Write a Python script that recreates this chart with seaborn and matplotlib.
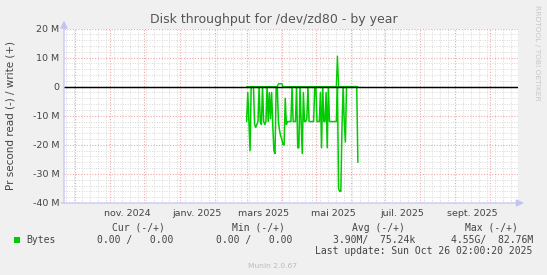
import numpy as np
import pandas as pd
import matplotlib
matplotlib.use("Agg")
import matplotlib.pyplot as plt
import matplotlib.dates as mdates
import matplotlib.transforms as mtransforms
from matplotlib.patches import Rectangle
import seaborn as sns

# ---------------- data (values in M bytes / second) ----------------
first_day = "2025-03-01"
read_mbps = [12, 2, 12, 22, 0, 0, 0, 13, 14, 13,
             12, 0, 12, 13, 0, 12, 13, 12, 0, 12,
             2, 11, 2, 13, 22, 23, 0, 0, 12, 15,
             17, 18, 20, 20, 4, 13, 12, 12, 12, 12,
             0, 12, 12, 12, 0, 21, 21, 0, 12, 23,
             2, 12, 12, 11, 0, 12, 12, 12, 12, 12,
             0, 0, 12, 12, 12, 2, 21, 0, 12, 12,
             2, 21, 0, 12, 12, 12, 12, 12, 12, 12,
             0, 35, 36, 36, 14, 0, 12, 19, 0, 0,
             0, 0, 0, 0, 0, 0, 0, 0, 26]
write_mbps = [0, 0, 0, 0, 0, 0, 0, 0, 0, 0,
              0, 0, 0, 0, 0, 0, 0, 0, 0, 0,
              0, 0, 0, 0, 0, 0, 0, 0, 1, 1,
              1, 1, 0, 0, 0, 0, 0, 0, 0, 0,
              0, 0, 0, 0, 0, 0, 0, 0, 0, 0,
              0, 0, 0, 0, 0, 0, 0, 0, 0, 0,
              0, 0, 0, 0, 0, 0, 0, 0, 0, 0,
              0, 0, 0, 0, 0, 0, 0, 0, 0, 0,
              10.5, 0, 0, 0, 0, 0, 0, 0, 0, 0,
              0, 0, 0, 0, 0, 0, 0, 0, 0]

x_start = "2024-09-21 02:00:20"
x_end = "2025-10-26 02:00:20"
y_ticks = [-40, -30, -20, -10, 0, 10, 20]
y_tick_labels = ["-40 M", "-30 M", "-20 M", "-10 M", "0", "10 M", "20 M"]
month_labels = ["nov. 2024", "janv. 2025", "mars 2025", "mai 2025", "juil. 2025", "sept. 2025"]
month_label_dates = ["2024-11-16", "2025-01-16", "2025-03-16", "2025-05-16", "2025-07-16", "2025-09-16"]

title = "Disk throughput for /dev/zd80 - by year"
ylabel = "Pr second read (-) / write (+)"
legend_headers = ["Cur (-/+)", "Min (-/+)", "Avg (-/+)", "Max (-/+)"]
legend_name = "Bytes"
legend_values = ["0.00 /   0.00", "0.00 /   0.00", "3.90M/  75.24k", "4.55G/  82.76M"]
last_update = "Last update: Sun Oct 26 02:00:20 2025"
footer = "Munin 2.0.67"
watermark = "RRDTOOL / TOBI OETIKER"

# ---------------- style ----------------
sns.set_style("white")
plt.rcParams["font.family"] = ["DejaVu Sans"]

GREEN = "#00CC00"
BG = "#F0F0F0"
TXT = "#444444"
AXC = "#C4C4F4"
MAJ = "#EFA8A8"
MIN = "#D8D8D8"

W, H = 547, 275
fig = plt.figure(figsize=(W / 100, H / 100), dpi=100, facecolor=BG)
L, R, T, B = 64, 518, 28.5, 203
ax = fig.add_axes([L / W, 1 - B / H, (R - L) / W, (B - T) / H])
ax.set_facecolor("white")

dates = pd.date_range(first_day, periods=len(read_mbps), freq="D")
df = pd.DataFrame({"date": dates,
                   "read": -np.array(read_mbps, dtype=float),
                   "write": np.array(write_mbps, dtype=float)})

sns.lineplot(data=df, x="date", y="read", color=GREEN, lw=1.1, ax=ax, zorder=3)
sns.lineplot(data=df, x="date", y="write", color=GREEN, lw=1.0, ax=ax, zorder=3)
ax.axhline(0, color="black", lw=1.05, zorder=4)

ax.set_xlim(pd.Timestamp(x_start), pd.Timestamp(x_end))
ax.set_ylim(-40, 20)

# grid
ax.set_yticks(y_ticks)
ax.set_yticklabels(y_tick_labels)
ax.set_yticks(np.arange(-40, 21, 2), minor=True)
ax.xaxis.set_major_locator(mdates.MonthLocator())
ax.xaxis.set_minor_locator(mdates.WeekdayLocator(byweekday=mdates.MO))
ax.xaxis.set_major_formatter(plt.NullFormatter())
ax.xaxis.set_minor_formatter(plt.NullFormatter())
ax.grid(which="minor", color=MIN, ls=(0, (1, 1.5)), lw=0.7, zorder=1)
ax.grid(which="major", color=MAJ, ls=(0, (1, 1.5)), lw=0.8, zorder=2)
ax.set_axisbelow(True)

ax.tick_params(axis="y", which="major", length=2, direction="out", color=MAJ,
               labelsize=6.8, labelcolor=TXT, pad=1.4)
ax.tick_params(axis="y", which="minor", length=1.5, direction="out", color=MIN)
ax.tick_params(axis="x", which="major", length=2.5, direction="out", color=MAJ)
ax.tick_params(axis="x", which="minor", length=2, direction="out", color=MIN)
ax.set_xlabel("")
ax.set_ylabel("")
for s in ax.spines.values():
    s.set_visible(False)

# axis lines with arrows (rrdtool style)
ax.annotate("", xy=(0, 1 + 8 / (B - T)), xycoords="axes fraction",
            xytext=(0, 0), textcoords="axes fraction",
            arrowprops=dict(arrowstyle="-|>,head_length=0.45,head_width=0.22",
                            color=AXC, lw=0.9, shrinkA=0, shrinkB=0),
            annotation_clip=False, zorder=5)
ax.annotate("", xy=(1 + 6 / (R - L), 0), xycoords="axes fraction",
            xytext=(-3 / (R - L), 0), textcoords="axes fraction",
            arrowprops=dict(arrowstyle="-|>,head_length=0.45,head_width=0.22",
                            color=AXC, lw=0.9, shrinkA=0, shrinkB=0),
            annotation_clip=False, zorder=5)

# month labels (centered mid-month, like rrdtool)
trans = mtransforms.blended_transform_factory(ax.transData, ax.transAxes)
for d, lab in zip(month_label_dates, month_labels):
    ax.text(mdates.date2num(pd.Timestamp(d)), -10 / (B - T), lab, transform=trans,
            ha="center", va="center", fontsize=6.8, color=TXT)

def fx(px):
    return px / W

def fy(py):
    return 1 - py / H

fig.text(fx(273.5), fy(20), title, ha="center", va="center", fontsize=9, color="#555555")
fig.text(fx(11), fy((T + B) / 2), ylabel, ha="center", va="center", rotation=90,
         fontsize=7.5, color=TXT)
fig.text(fx(537.5), fy(5), watermark, ha="center", va="top", rotation=270,
         fontsize=5.4, color="#C8C8C8")

# legend
mono = "DejaVu Sans Mono"
hdr_right = [164.5, 284.5, 405, 517.5]
val_right = [173.8, 292.2, 415.7, 533.2]
for h, xr in zip(legend_headers, hdr_right):
    fig.text(fx(xr), fy(228), h, ha="right", va="center", fontsize=7, family=mono, color=TXT)
fig.patches.append(Rectangle((fx(14), fy(243)), 6 / W, 6 / H, transform=fig.transFigure,
                             facecolor=GREEN, edgecolor="none"))
fig.text(fx(26), fy(240), legend_name, ha="left", va="center", fontsize=7, family=mono, color=TXT)
for v, xr in zip(legend_values, val_right):
    fig.text(fx(xr), fy(240), v, ha="right", va="center", fontsize=7, family=mono, color=TXT)
fig.text(fx(532.5), fy(251.5), last_update, ha="right", va="center", fontsize=7, family=mono, color=TXT)
fig.text(fx(273), fy(266), footer, ha="center", va="center", fontsize=5.4, color="#BBBBBB")

fig.savefig("out.png", dpi=100, facecolor=BG)
